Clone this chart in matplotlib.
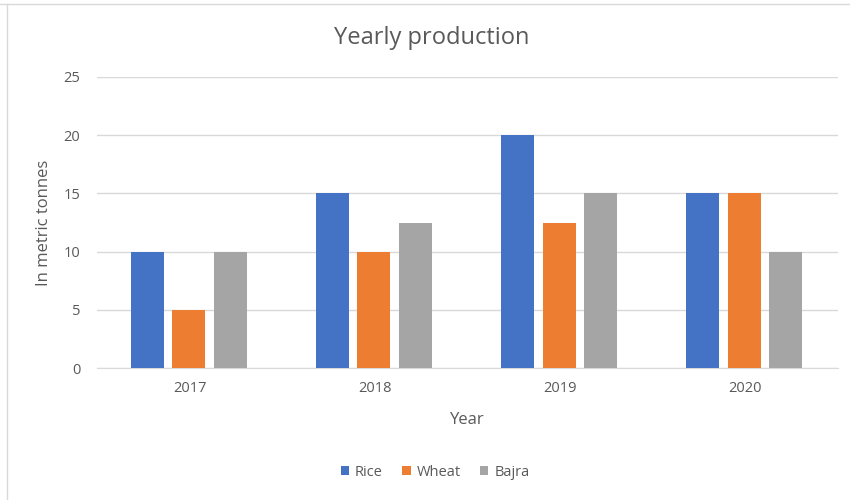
import matplotlib.pyplot as plt
import numpy as np

years = ["2017", "2018", "2019", "2020"]
rice = [10, 15, 20, 15]
wheat = [5, 10, 12.5, 15]
bajra = [10, 12.5, 15, 10]

series = [("Rice", rice, "#4472C4"), ("Wheat", wheat, "#ED7D31"), ("Bajra", bajra, "#A5A5A5")]
text_color = "#595959"

plt.rcParams["font.family"] = ["Open Sans", "DejaVu Sans"]

fig = plt.figure(figsize=(8.5, 5), dpi=100)
ax = fig.add_axes([97 / 850, 1 - 368 / 500, (838 - 97) / 850, (368 - 77) / 500])

x = np.arange(len(years))
width = 0.178
step = 0.224
for i, (name, vals, color) in enumerate(series):
    ax.bar(x + (i - 1) * step - 0.005, vals, width=width, color=color, label=name, zorder=3)

ax.set_xlim(-0.5, 3.5)
ax.set_ylim(0, 25)
ax.set_yticks(range(0, 26, 5))
ax.set_xticks(x)
ax.set_xticklabels(years)
ax.grid(True, axis="y", color="#D9D9D9", linewidth=1, zorder=0)
for side in ["top", "right", "left"]:
    ax.spines[side].set_visible(False)
ax.spines["bottom"].set_color("#D9D9D9")
ax.tick_params(axis="both", length=0, colors=text_color, labelsize=10.5)
ax.tick_params(axis="y", pad=12)
ax.tick_params(axis="x", pad=9)

ax.set_xlabel("Year", fontsize=12, color=text_color, labelpad=12)
ax.set_ylabel("In metric tonnes", fontsize=12, color=text_color, labelpad=8)
fig.text(432 / 850, 1 - 38 / 500, "Yearly production", ha="center", va="center",
         fontsize=17, color=text_color)

fig.legend(loc="center", bbox_to_anchor=(435 / 850, 1 - 472 / 500), ncol=3, frameon=False,
           fontsize=10.5, labelcolor=text_color, handlelength=0.6, handleheight=0.6,
           handletextpad=0.4, columnspacing=1.3)

# outer chart border (left and top edges visible in the reference)
fig.add_artist(plt.Line2D([7 / 850, 7 / 850], [0, 1 - 4 / 500], color="#D9D9D9", linewidth=1))
fig.add_artist(plt.Line2D([0, 1], [1 - 4 / 500, 1 - 4 / 500], color="#D9D9D9", linewidth=1))

fig.savefig("out.png", dpi=100, facecolor="white")
